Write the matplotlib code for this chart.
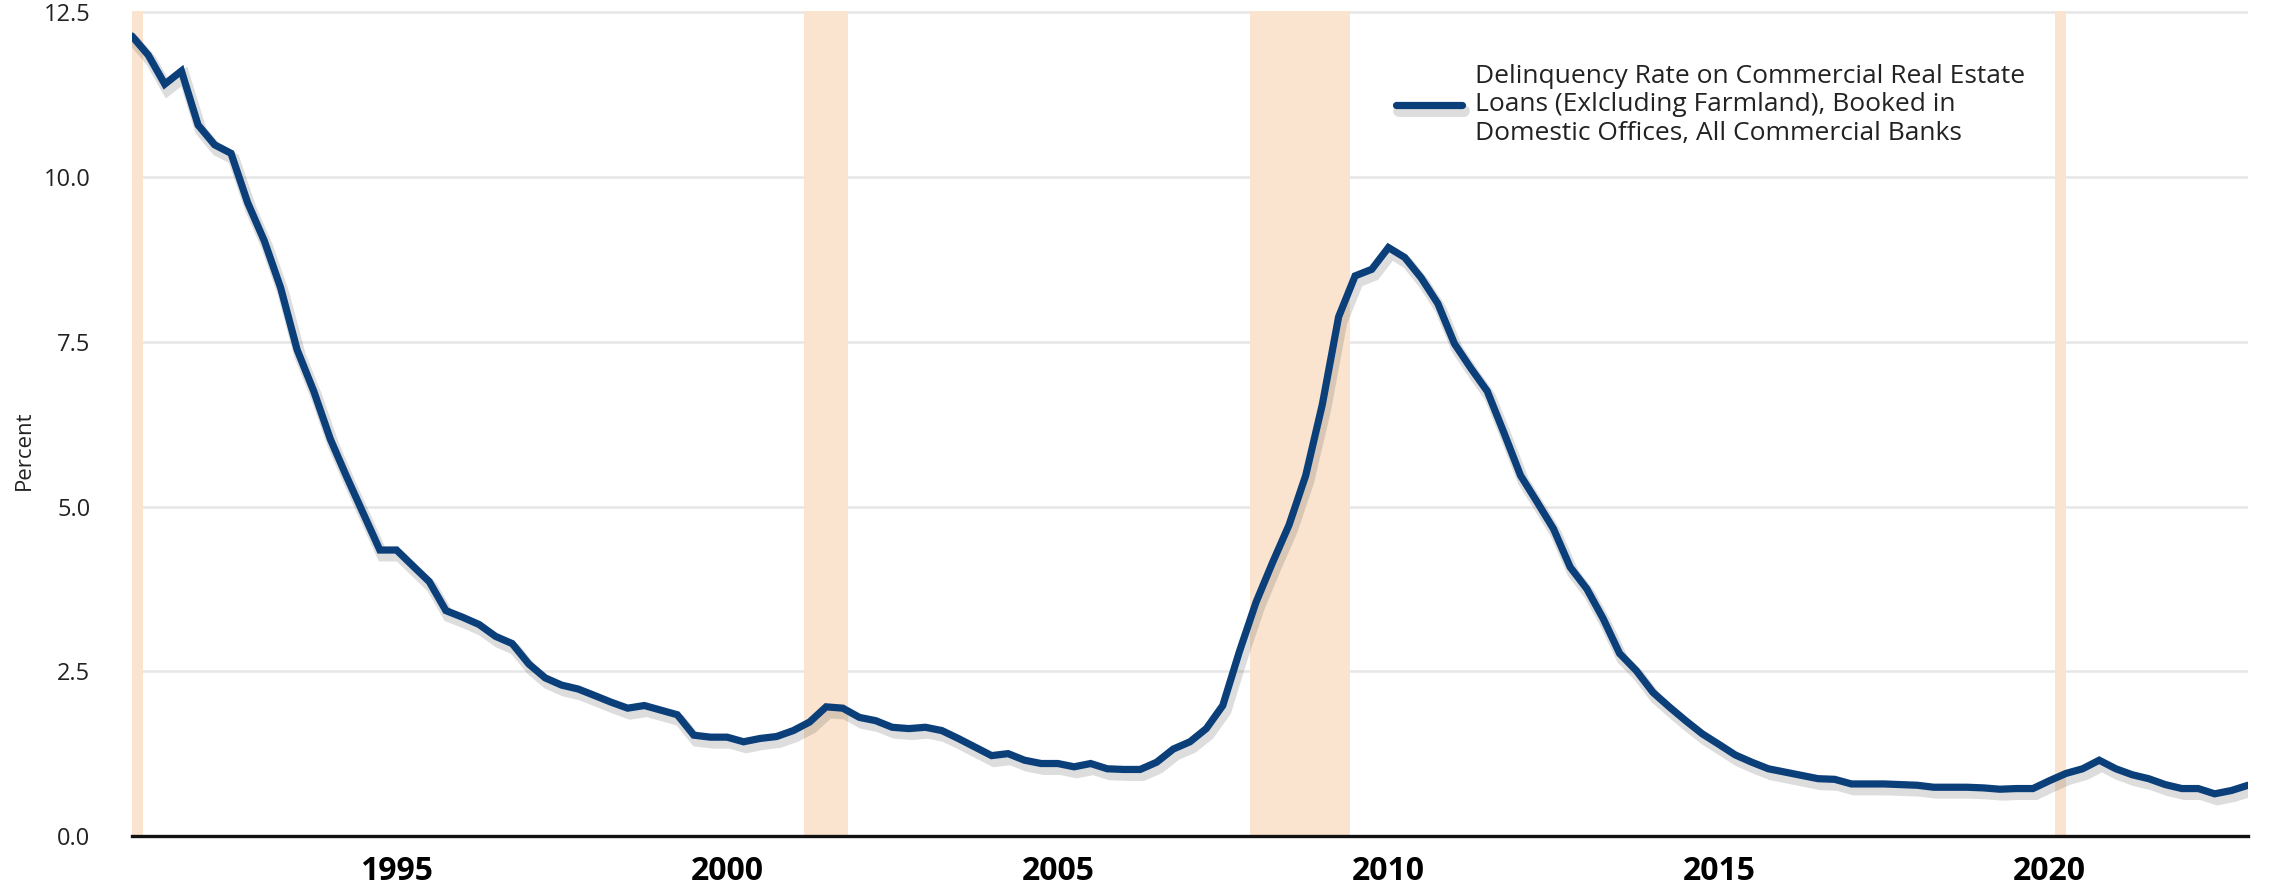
import pandas as pd
import matplotlib
matplotlib.use("Agg")
from matplotlib import pyplot as plt
import matplotlib.patheffects as pe

plt.rcParams['font.family'] = ['Open Sans', 'DejaVu Sans']

# quarterly delinquency rate, 1991 Q1 .. 2023 Q1 (percent)
start_date = '1991-01-01'
rate = [
    12.14, 11.85, 11.41, 11.61,
    10.79, 10.49, 10.36, 9.61,
    9.03, 8.32, 7.38, 6.75,
    6.02, 5.45, 4.90, 4.34,
    4.34, 4.10, 3.86, 3.42,
    3.32, 3.21, 3.03, 2.92,
    2.61, 2.40, 2.29, 2.23,
    2.13, 2.03, 1.94, 1.98,
    1.91, 1.84, 1.53, 1.50,
    1.50, 1.43, 1.48, 1.51,
    1.60, 1.73, 1.96, 1.94,
    1.80, 1.75, 1.65, 1.63,
    1.65, 1.60, 1.48, 1.35,
    1.22, 1.25, 1.15, 1.10,
    1.10, 1.05, 1.10, 1.02,
    1.01, 1.01, 1.12, 1.32,
    1.43, 1.63, 1.98, 2.80,
    3.55, 4.15, 4.72, 5.47,
    6.55, 7.88, 8.50, 8.60,
    8.93, 8.78, 8.47, 8.08,
    7.47, 7.10, 6.75, 6.12,
    5.47, 5.07, 4.66, 4.08,
    3.75, 3.30, 2.77, 2.51,
    2.18, 1.96, 1.75, 1.55,
    1.39, 1.23, 1.12, 1.02,
    0.97, 0.92, 0.87, 0.86,
    0.79, 0.79, 0.79, 0.78,
    0.77, 0.74, 0.74, 0.74,
    0.73, 0.71, 0.72, 0.72,
    0.84, 0.95, 1.02, 1.15,
    1.02, 0.93, 0.87, 0.78,
    0.72, 0.72, 0.64, 0.69,
    0.77,
]

# recessions (shaded)
rec_start = ['1990-07-01', '2001-03-01', '2007-12-01', '2020-02-01']
rec_end = ['1991-03-01', '2001-11-01', '2009-06-01', '2020-04-01']

tick_years = [1995, 2000, 2005, 2010, 2015, 2020]
y_ticks = [0.0, 2.5, 5.0, 7.5, 10.0, 12.5]

label = ("Delinquency Rate on Commercial Real Estate\n"
         "Loans (Exlcluding Farmland), Booked in\n"
         "Domestic Offices, All Commercial Banks")

dates = pd.date_range(start_date, periods=len(rate), freq='QS')
df = pd.DataFrame({'date': dates, 'rate': rate})

fig = plt.figure(figsize=(22.69, 8.88), dpi=100)
ax = fig.add_axes([132 / 2269, 52 / 888, 2116 / 2269, 825 / 888])

for s, e in zip(rec_start, rec_end):
    ax.axvspan(pd.Timestamp(s), pd.Timestamp(e), color='#fbe4cf', lw=0, zorder=1)

ax.plot(df['date'], df['rate'], color='#0b3f7a', lw=5.2, label=label,
        solid_capstyle='round', solid_joinstyle='miter', zorder=3,
        path_effects=[pe.SimpleLineShadow(offset=(2, -4), shadow_color='#555555',
                                          alpha=0.2, linewidth=8.5),
                      pe.Normal()])

ax.set_xlim(df['date'].iloc[0], df['date'].iloc[-1])
ax.set_ylim(0, 12.52)
ax.set_yticks(y_ticks)
ax.set_yticklabels(['%.1f' % v for v in y_ticks], fontsize=17, color='#222222')
ax.set_xticks([pd.Timestamp('%d-01-01' % y) for y in tick_years])
ax.set_xticklabels([str(y) for y in tick_years], fontsize=23, fontweight='bold')
ax.tick_params(axis='both', length=0)
ax.tick_params(axis='y', pad=30)
ax.tick_params(axis='x', pad=14)

ax.grid(axis='y', color='#e6e6e6', lw=1.8, zorder=0)
ax.set_axisbelow(True)
for side in ['left', 'right', 'top']:
    ax.spines[side].set_visible(False)
ax.spines['bottom'].set_linewidth(2.4)
ax.spines['bottom'].set_color('#111111')
ax.spines['bottom'].set_zorder(4)

fig.text(24 / 2269, 1 - 450 / 888, 'Percent', rotation=90, fontsize=16,
         ha='center', va='center', color='#222222')

leg = ax.legend(loc='upper left', bbox_to_anchor=(0.586, 0.965), frameon=False,
                fontsize=19, handlelength=2.5, handletextpad=0.5)
for t in leg.get_texts():
    t.set_color('#222222')

plt.savefig('out.png', dpi=100)
